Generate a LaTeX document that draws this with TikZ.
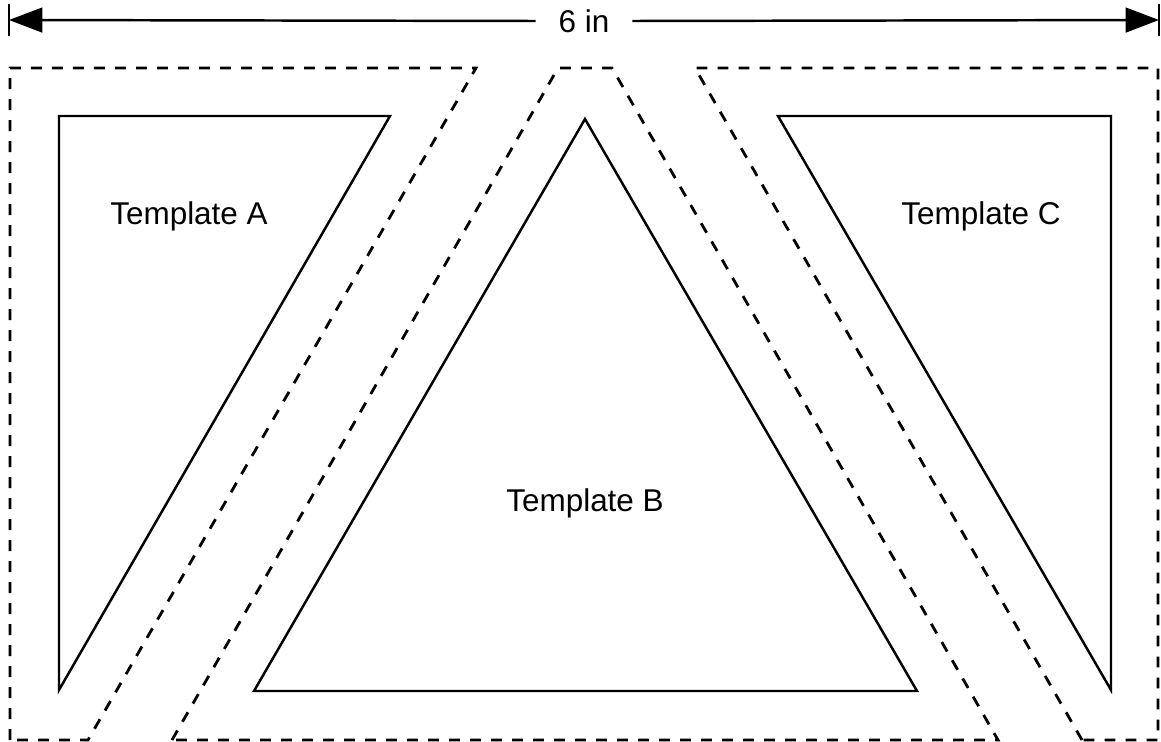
\documentclass[tikz,border=0pt]{standalone}
\usepackage{fontspec}
\setmainfont{Liberation Sans}
\usetikzlibrary{arrows.meta}
\begin{document}
\begin{tikzpicture}[x=0.75pt,y=-0.75pt,
  cut/.style={line width=2.1pt, dash pattern=on 8.2pt off 7.55pt},
  tmpl/.style={line width=1.85pt, line join=miter},
  lbl/.style={font=\fontsize{23.6}{27}\selectfont, inner sep=0pt},
  dim/.style={line width=1.85pt, -{Triangle[length=25pt,width=18.5pt]}}]
\useasboundingbox (0,0) rectangle (1161,742);
% dimension
\coordinate (L) at (9,20);
\coordinate (R) at (1159,20);
\node[lbl, inner xsep=17pt] (dimtext) at (584,21) {6 in};
\draw[dim] (dimtext.west) -- (L);
\draw[dim] (dimtext.east) -- (R);
\draw[line width=1.85pt] (9,4) -- (9,36);
\draw[line width=1.85pt] (1159,4) -- (1159,36);
% cut lines
\draw[cut] (10,740) -- (10,68) -- (476,68) -- (88,740) -- cycle;
\draw[cut] (172,740) -- (558,68) -- (612,68) -- (998,740) -- cycle;
\draw[cut] (1082,740) -- (695,68) -- (1158,68) -- (1158,740) -- cycle;
% templates
\draw[tmpl] (59,690) -- (59,116) -- (390,116) -- cycle;
\draw[tmpl] (254,691) -- (585,119) -- (917,691) -- cycle;
\draw[tmpl] (1111,690) -- (1111,116) -- (778,116) -- cycle;
\node[lbl] (ta) at (189,216) {Template A};
\node[lbl] (tb) at (585,503) {Template B};
\node[lbl] (tc) at (981,216) {Template C};
\end{tikzpicture}
\end{document}
